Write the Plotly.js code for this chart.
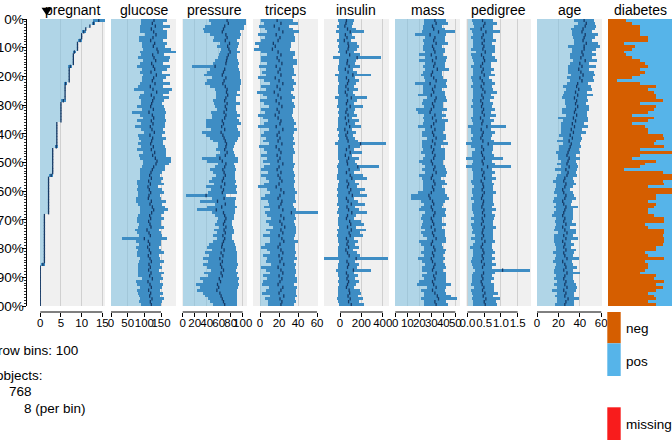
<!DOCTYPE html>
<html>
<head>
<meta charset="utf-8">
<script src="https://cdn.plot.ly/plotly-3.0.1.min.js"></script>
<style>
  html, body { margin: 0; padding: 0; background: #fff; }
  #chart { width: 672px; height: 440px; }
</style>
</head>
<body>
<div id="chart"></div>
<script>
// Pima diabetes data, 768 rows sorted by "pregnant" (decreasing), 100 row bins.
// Per bin: mean and standard deviation of each numeric column, share of "neg" for diabetes.

const pregnantMean = [14.14,12.88,12,11,10.5,10,10,9.63,9,9,
  9,8.25,8,8,8,8,7.25,7,7,7,
  7,7,6.13,6,6,6,6,6,5.57,5,
  5,5,5,5,5,5,4,4,4,4,
  4,4,4,4,3.88,3,3,3,3,3,
  3,3,3,3,2.63,2,2,2,2,2,
  2,2,2,2,2,2,2,2,1,1,
  1,1,1,1,1,1,1,1,1,1,
  1,1,1,1,1,0.63,0,0,0,0,
  0,0,0,0,0,0,0,0,0,0];
const pregnantSd = [1.46,0.35,0,0,0.53,0,0,0.52,0,0,
  0,0.46,0,0,0,0,0.46,0,0,0,
  0,0,0.35,0,0,0,0,0,0.53,0,
  0,0,0,0,0,0,0,0,0,0,
  0,0,0,0,0.35,0,0,0,0,0,
  0,0,0,0,0.52,0,0,0,0,0,
  0,0,0,0,0,0,0,0,0,0,
  0,0,0,0,0,0,0,0,0,0,
  0,0,0,0,0,0.52,0,0,0,0,
  0,0,0,0,0,0,0,0,0,0];

const glucoseMean = [129,124,133,121,128,135,126,119,131,127,
  138,141,125,129,134,122,127,131,120,136,
  128,124,132,118,126,137,121,129,125,122,
  119,127,114,124,128,121,126,118,123,130,
  117,125,122,119,127,121,131,125,133,138,
  135,128,124,120,116,121,113,118,111,115,
  119,114,112,121,117,124,128,122,116,119,
  113,117,120,108,114,118,100,112,116,110,
  115,119,112,117,121,114,118,113,120,116,
  124,111,117,121,113,119,116,123,118,121];
const glucoseSd = [38,33,45,35,40,32,42,36,37,34,
  42,54,35,47,39,34,50,37,33,40,
  36,31,44,38,56,38,34,46,35,32,
  40,35,50,38,33,43,37,45,34,32,
  35,41,33,38,36,44,34,40,47,43,
  40,35,38,33,30,35,36,41,31,37,
  39,33,37,45,35,38,42,36,34,40,
  36,32,39,35,37,34,67,38,33,35,
  35,40,33,30,37,34,36,32,39,35,
  31,36,38,33,35,37,32,36,34,30];

const pressureMean = [74,76,70,68,66,72,74,71,78,75,
  77,79,76,74,73,72,54,70,68,66,
  72,69,67,71,74,73,75,72,70,74,
  71,73,69,72,70,66,68,65,70,64,
  67,69,71,73,72,70,74,71,62,66,
  72,70,67,69,71,68,66,70,64,68,
  66,39,69,58,71,65,56,68,70,72,
  70,68,72,69,71,67,70,68,66,65,
  69,64,67,62,66,63,65,68,64,66,
  61,63,58,60,57,62,64,66,68,70];
const pressureSd = [31,29,33,35,30,26,22,20,16,18,
  14,17,15,16,19,22,38,24,27,30,
  23,28,30,25,21,18,20,17,19,22,
  18,16,22,24,21,28,30,26,23,32,
  28,24,20,15,13,14,12,16,30,26,
  14,17,22,19,16,20,23,18,26,21,
  24,34,20,30,17,25,32,19,16,14,
  13,15,12,17,14,16,13,18,22,24,
  20,27,23,28,24,30,25,21,29,24,
  33,30,36,32,34,29,27,24,22,20];

const tricepsMean = [18,22,15,20,24,17,21,19,14,16,
  13,19,22,18,20,23,17,21,19,22,
  16,20,24,18,21,15,19,22,17,20,
  23,18,20,16,19,22,21,17,24,20,
  18,21,19,23,17,20,22,18,21,19,
  24,20,18,22,19,21,23,20,17,22,
  25,21,19,23,22,20,24,33,22,25,
  21,23,26,22,24,20,23,25,21,19,
  22,24,20,23,21,25,19,22,24,20,
  23,21,19,24,22,20,25,21,23,22];
const tricepsSd = [17,18,16,15,17,19,16,18,19,17,
  19,18,15,17,19,16,18,15,17,16,
  18,16,14,17,15,18,16,15,17,16,
  14,17,15,18,16,14,17,19,15,16,
  17,15,16,14,18,16,15,17,14,16,
  13,16,17,14,18,15,14,16,19,15,
  14,16,18,15,13,16,14,28,15,13,
  15,14,12,16,14,17,13,15,16,18,
  15,14,17,16,15,13,18,16,14,17,
  16,18,17,15,16,18,14,16,15,14];

const insulinMean = [60,55,45,70,95,50,65,40,75,80,
  75,60,90,160,70,65,85,50,75,120,
  60,80,70,55,75,50,65,105,70,60,
  95,65,55,75,50,80,60,90,45,70,
  55,65,75,192,85,60,95,50,80,65,
  70,166,85,60,95,110,65,80,70,100,
  85,115,60,75,105,65,80,110,70,60,
  90,100,70,105,85,95,60,75,65,80,
  55,70,85,151,65,80,70,125,60,75,
  65,80,70,60,85,90,75,95,80,105];
const insulinSd = [75,65,70,80,130,62,75,65,85,95,
  85,75,95,223,80,78,100,70,85,170,
  78,95,80,75,90,70,78,150,85,75,
  120,78,75,85,65,95,78,110,70,80,
  70,78,90,240,100,75,115,65,95,78,
  85,197,100,75,120,140,78,95,85,130,
  100,140,75,90,130,78,95,140,80,75,
  105,120,80,135,100,120,75,90,78,95,
  70,85,100,301,78,95,85,160,75,90,
  78,95,80,75,100,110,90,120,95,115];

const massMean = [33,34,31,32,36,29,33,32,34,31,
  32,33,30,34,31,33,32,35,31,30,
  32,34,29,33,31,32,30,34,33,31,
  32,30,29,33,31,34,32,30,33,31,
  32,34,31,33,30,32,31,33,32,30,
  31,33,32,34,31,30,32,33,31,32,
  30,28,29,31,32,30,31,33,32,30,
  31,32,30,33,31,32,34,31,30,32,
  33,31,32,30,31,33,32,31,34,32,
  33,31,32,34,31,33,35,36,33,34];
const massSd = [9,10,8,9,14,13,8,9,10,8,
  9,8,10,9,11,8,9,10,8,9,
  8,9,13,10,8,9,11,8,10,9,
  8,13,10,9,8,10,9,11,8,9,
  10,8,9,11,8,9,10,8,9,10,
  9,8,10,9,11,8,9,10,8,9,
  11,15,16,10,8,9,11,8,10,9,
  8,10,9,8,10,9,8,11,9,8,
  9,10,8,11,9,8,10,9,8,10,
  9,11,14,8,10,9,11,15,9,10];

const pedigreeMean = [0.45,0.52,0.48,0.41,0.55,0.47,0.43,0.50,0.44,0.49,
  0.46,0.53,0.42,0.48,0.51,0.45,0.40,0.47,0.43,0.50,
  0.38,0.44,0.49,0.41,0.46,0.52,0.43,0.47,0.40,0.45,
  0.42,0.48,0.44,0.50,0.39,0.46,0.43,0.58,0.41,0.47,
  0.44,0.40,0.46,0.62,0.43,0.48,0.42,0.45,0.50,0.44,
  0.47,0.60,0.43,0.49,0.45,0.51,0.41,0.46,0.48,0.44,
  0.50,0.45,0.42,0.48,0.46,0.43,0.49,0.45,0.51,0.44,
  0.47,0.42,0.50,0.46,0.44,0.48,0.43,0.52,0.45,0.41,
  0.46,0.49,0.44,0.47,0.42,0.50,0.45,1.05,0.48,0.43,
  0.46,0.41,0.44,0.49,0.45,0.52,0.47,0.55,0.50,0.53];
const pedigreeSd = [0.31,0.36,0.28,0.34,0.41,0.30,0.32,0.35,0.29,0.33,
  0.37,0.28,0.31,0.34,0.36,0.26,0.30,0.32,0.28,0.33,
  0.27,0.30,0.34,0.31,0.29,0.36,0.28,0.32,0.26,0.30,
  0.31,0.33,0.27,0.35,0.29,0.32,0.28,0.58,0.30,0.36,
  0.28,0.31,0.34,0.68,0.32,0.27,0.30,0.33,0.55,0.29,
  0.34,0.70,0.30,0.32,0.28,0.35,0.31,0.33,0.29,0.32,
  0.36,0.30,0.33,0.28,0.34,0.31,0.37,0.29,0.32,0.35,
  0.28,0.33,0.36,0.30,0.32,0.27,0.34,0.31,0.29,0.33,
  0.30,0.32,0.28,0.35,0.31,0.36,0.29,0.83,0.33,0.30,
  0.32,0.28,0.34,0.31,0.35,0.38,0.30,0.42,0.34,0.36];

const ageMean = [44,46,45,43,42,45,44,43,46,44,
  44,42,43,41,45,40,42,39,41,43,
  40,42,38,37,39,36,38,35,37,36,
  38,36,35,37,34,36,33,35,32,34,
  31,33,30,32,31,30,29,28,30,29,
  28,30,27,29,28,26,25,27,26,24,
  25,27,26,24,25,27,26,25,24,26,
  25,27,24,26,28,25,27,24,26,25,
  27,25,26,28,24,26,27,25,28,26,
  25,27,26,28,25,27,26,29,27,26];
const ageSd = [9,8,10,11,9,12,10,8,11,15,
  11,9,12,10,11,9,13,10,12,11,
  12,11,10,13,12,11,14,12,11,10,
  11,13,12,10,14,12,11,13,10,12,
  10,9,11,8,10,9,11,8,10,7,
  9,8,10,7,9,8,10,9,8,7,
  9,8,10,9,7,11,8,9,10,8,
  8,9,7,10,8,9,11,8,9,7,
  9,10,8,11,9,8,10,9,12,8,
  9,8,10,9,11,8,9,10,8,9];

// share of "neg" in each bin; "pos" fills the rest
const diabetesNeg = [0.286,0.375,0.5,0.5,0.5,0.5,0.625,0.625,0.25,0.429,
  0.375,0.25,0.286,0.375,0.5,0.571,0.625,0.5,0.571,0.5,
  0.375,0.143,0.5,0.75,0.625,0.714,0.75,0.75,0.857,0.5,
  0.75,0.714,0.625,0.375,0.714,0.625,0.375,0.571,0.625,0.625,
  0.857,0.875,0.75,0.714,0.875,0.5,1.0,0.5,0.375,0.75,
  0.571,0.5,0.25,0.857,1.0,1.0,0.857,0.875,0.625,1.0,
  1.0,0.75,0.75,0.625,0.75,0.714,0.625,0.625,0.714,0.875,
  0.875,0.571,0.625,0.875,0.875,0.857,0.875,0.875,0.857,0.75,
  0.75,0.571,0.625,0.875,0.571,0.625,0.625,0.571,0.5,0.75,
  0.714,0.875,0.75,0.857,0.75,0.625,0.714,0.75,0.625,0.75];

const columnNames = ['pregnant','glucose','pressure','triceps','insulin','mass','pedigree','age','diabetes'];
const pregnantTicks = [0,5,10,15];
const glucoseTicks = [0,50,100,150];
const pressureTicks = [0,20,40,60,80,100];
const tricepsTicks = [0,20,40,60];
const insulinTicks = [0,200,400];
const massTicks = [0,10,20,30,40,50];
const pedigreeTicks = [0,0.5,1,1.5];
const pedigreeTickText = ['0.0','0.5','1.0','1.5'];
const ageTicks = [0,20,40,60];
const diabetesLevels = ['neg','pos','missing'];
const nBins = 100;
const nObjects = 768;
const perBin = 8;

// ---- drawing ----
const W = 672, H = 440;
const TOP = 19, AXIS_Y = 312, BIN_BOTTOM = 306;
const plotH = AXIS_Y - TOP;
const fx = p => p / W;                 // page pixel -> paper x
const fy = p => (AXIS_Y - p) / plotH;  // page pixel -> paper y

const FONT = 'Liberation Sans, Arial, Helvetica, sans-serif';
const C_LIGHT = 'rgba(124,191,224,0.55)';
const C_BAND = 'rgb(62,141,196)';
const C_MEAN = '#163a66';
const C_PANEL = '#f0f0f0';
const C_GRID = '#d0d0d0';
const C_NEG = '#d55e00';
const C_POS = '#56b4e9';
const C_MISSING = '#f81c1c';

const binCenters = pregnantMean.map((_, i) => i + 0.5);

const panels = [
  {mean: pregnantMean, sd: pregnantSd, range: [-0.07, 15.65], ticks: pregnantTicks},
  {mean: glucoseMean, sd: glucoseSd, range: [0, 195], ticks: glucoseTicks},
  {mean: pressureMean, sd: pressureSd, range: [-1.2, 107.2], ticks: pressureTicks},
  {mean: tricepsMean, sd: tricepsSd, range: [-7.4, 61], ticks: tricepsTicks},
  {mean: insulinMean, sd: insulinSd, range: [-150, 458], ticks: insulinTicks},
  {mean: massMean, sd: massSd, range: [-0.25, 53.9], ticks: massTicks},
  {mean: pedigreeMean, sd: pedigreeSd, range: [-0.045, 1.9], ticks: pedigreeTicks, text: pedigreeTickText},
  {mean: ageMean, sd: ageSd, range: [0, 60.7], ticks: ageTicks}
];

const traces = [];
const layout = {
  width: W, height: H,
  margin: {l: 0, r: 0, t: TOP, b: H - AXIS_Y, pad: 0},
  paper_bgcolor: '#ffffff',
  plot_bgcolor: 'rgba(0,0,0,0)',
  showlegend: false,
  barmode: 'overlay',
  bargap: 0,
  font: {family: FONT, color: '#000', size: 13.5},
  shapes: [],
  annotations: [],
  yaxis: {
    domain: [(AXIS_Y - BIN_BOTTOM) / plotH, 1],
    range: [100, 0],
    anchor: 'free', position: 25.5 / W, side: 'left',
    tickmode: 'linear', tick0: 0, dtick: 10, ticksuffix: '%',
    ticks: 'outside', ticklen: 4, tickwidth: 1, tickcolor: '#000',
    ticklabelstandoff: -5,
    showline: true, linecolor: '#000', linewidth: 1,
    showgrid: false, zeroline: false,
    tickfont: {size: 13.5, color: '#000'},
    minor: {tick0: 0, dtick: 1, ticks: 'outside', ticklen: 2, tickwidth: 0.8, tickcolor: '#000', showgrid: false},
    fixedrange: true
  }
};

function panelLeft(i) { return 40 + 71 * i; }

panels.forEach((p, i) => {
  const k = i === 0 ? '' : String(i + 1);
  const xa = 'x' + k;
  const left = panelLeft(i);
  layout['xaxis' + k] = {
    domain: [fx(left), fx(left + 65)],
    range: p.range,
    anchor: 'free', position: 0,
    tickmode: 'array', tickvals: p.ticks, ticktext: p.text || p.ticks.map(String),
    tickangle: 0, ticklabelstandoff: -4,
    ticks: 'outside', ticklen: 4, tickwidth: 1, tickcolor: '#000',
    showline: false, showgrid: true, gridcolor: C_GRID, gridwidth: 1,
    zeroline: false,
    tickfont: {size: 11.5, color: '#000'},
    fixedrange: true
  };
  // panel background
  layout.shapes.push({type: 'rect', xref: xa + ' domain', yref: 'y', x0: 0, x1: 1, y0: 0, y1: nBins,
    fillcolor: C_PANEL, line: {width: 0}, layer: 'below'});
  // axis line between the outer ticks
  layout.shapes.push({type: 'line', xref: xa, yref: 'paper', x0: p.ticks[0], x1: p.ticks[p.ticks.length - 1],
    y0: 0, y1: 0, line: {color: '#000', width: 1}});
  // bar from 0 to the bin mean
  traces.push({type: 'bar', orientation: 'h', xaxis: xa, yaxis: 'y', y: binCenters, x: p.mean, base: 0,
    width: 1, marker: {color: C_LIGHT, line: {width: 0}}, hoverinfo: 'skip'});
  // mean +/- sd band
  traces.push({type: 'bar', orientation: 'h', xaxis: xa, yaxis: 'y', y: binCenters,
    x: p.sd.map(s => 2 * s), base: p.mean.map((m, j) => m - p.sd[j]),
    width: 1, marker: {color: C_BAND, line: {width: 0}}, hoverinfo: 'skip'});
  // mean marks
  traces.push({type: 'scatter', mode: 'markers', xaxis: xa, yaxis: 'y', y: binCenters, x: p.mean,
    marker: {symbol: 'line-ns', size: 2.4, color: C_MEAN, line: {width: 1.3, color: C_MEAN}},
    hoverinfo: 'skip', cliponaxis: true});
});

// diabetes: stacked shares
const dLeft = panelLeft(8);
layout.xaxis9 = {domain: [fx(dLeft), 1], range: [0, 1], anchor: 'free', position: 0,
  showticklabels: false, ticks: '', showgrid: false, zeroline: false, showline: false, fixedrange: true};
traces.push({type: 'bar', orientation: 'h', xaxis: 'x9', yaxis: 'y', y: binCenters, x: diabetesNeg, base: 0,
  width: 1, marker: {color: C_NEG, line: {width: 0}}, hoverinfo: 'skip'});
traces.push({type: 'bar', orientation: 'h', xaxis: 'x9', yaxis: 'y', y: binCenters,
  x: diabetesNeg.map(v => 1 - v), base: diabetesNeg,
  width: 1, marker: {color: C_POS, line: {width: 0}}, hoverinfo: 'skip'});

// column titles
columnNames.forEach((name, i) => {
  layout.annotations.push({xref: 'paper', yref: 'paper', x: fx(panelLeft(i) + 32.5), y: fy(9.5),
    xanchor: 'center', yanchor: 'middle', text: name, showarrow: false, font: {size: 14}});
});

// sort marker on the first column
layout.shapes.push({type: 'path', xref: 'paper', yref: 'paper',
  path: `M ${fx(41.5)},${fy(7.8)} L ${fx(52)},${fy(7.8)} L ${fx(46.75)},${fy(15.5)} Z`,
  fillcolor: '#000', line: {width: 0}});

// bin summary
const info = [
  {t: 'row bins: ' + nBins, x: -4.5, y: 350},
  {t: 'objects:', x: -6, y: 375},
  {t: String(nObjects), x: 7, y: 391},
  {t: perBin + ' (per bin)', x: 21.5, y: 408}
];
info.forEach(d => layout.annotations.push({xref: 'paper', yref: 'paper', x: fx(d.x), y: fy(d.y),
  xanchor: 'left', yanchor: 'middle', text: d.t, showarrow: false, font: {size: 13.5}}));

// diabetes legend
const legendRows = [
  {c: C_NEG, y0: 312, y1: 343.3, ty: 328.3},
  {c: C_POS, y0: 343.3, y1: 376, ty: 361},
  {c: C_MISSING, y0: 407.3, y1: 441, ty: 424}
];
legendRows.forEach((r, i) => {
  layout.shapes.push({type: 'rect', xref: 'paper', yref: 'paper', x0: fx(607.3), x1: fx(620.7),
    y0: fy(r.y1), y1: fy(r.y0), fillcolor: r.c, line: {width: 0}});
  layout.annotations.push({xref: 'paper', yref: 'paper', x: fx(623.5), y: fy(r.ty), xanchor: 'left',
    yanchor: 'middle', text: diabetesLevels[i], showarrow: false, font: {size: 13.5}});
});

Plotly.newPlot('chart', traces, layout, {staticPlot: true, displayModeBar: false});
</script>
</body>
</html>
